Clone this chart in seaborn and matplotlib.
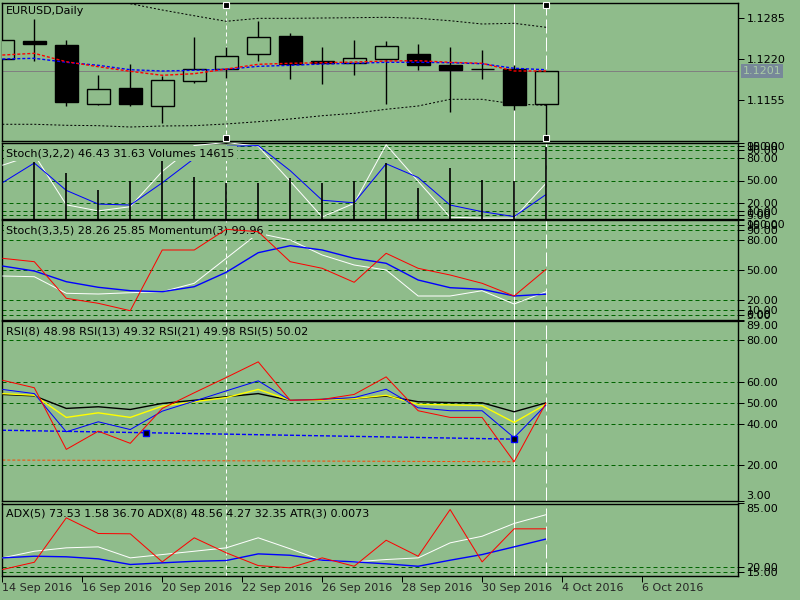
import numpy as np
import matplotlib
matplotlib.use("Agg")
import matplotlib.pyplot as plt
import matplotlib.transforms as mtransforms
import seaborn as sns

sns.set_style("white")
plt.rcParams['font.family'] = ['DejaVu Sans']
plt.rcParams['lines.scale_dashes'] = False
plt.rcParams['lines.solid_capstyle'] = 'butt'

BG = '#8FBC8B'
LEVEL = '#006400'
PX = 0.72  # one screen pixel in points

# ---- data (bar index 0..17) ----
bars = list(range(18))
opens = [1.12195, 1.12485, 1.12422, 1.11491, 1.11735, 1.11460, 1.11856, 1.12046, 1.12275,
         1.12565, 1.12168, 1.12141, 1.12195, 1.12279, 1.12105, 1.12041, 1.12041, 1.11482]
highs = [1.12501, 1.12834, 1.12501, 1.11946, 1.12121, 1.11930, 1.12554, 1.12395, 1.12807,
         1.12617, 1.12390, 1.12501, 1.12485, 1.12438, 1.12390, 1.12343, 1.12105, 1.12010]
lows = [1.12195, 1.12168, 1.11460, 1.11470, 1.11460, 1.11190, 1.11815, 1.11904, 1.12168,
        1.11883, 1.11804, 1.11946, 1.11487, 1.12026, 1.11364, 1.11883, 1.11387, 1.10952]
closes = [1.12501, 1.12438, 1.11523, 1.11720, 1.11482, 1.11862, 1.12037, 1.12248, 1.12544,
          1.12126, 1.12132, 1.12211, 1.12406, 1.12110, 1.12030, 1.12035, 1.11475, 1.12010]

ma_red = [1.12263, 1.12290, 1.12157, 1.12078, 1.12005, 1.11942, 1.11967, 1.12041, 1.12116,
          1.12132, 1.12141, 1.12152, 1.12168, 1.12173, 1.12148, 1.12132, 1.12010, 1.12010]
ma_blue = [1.12200, 1.12211, 1.12148, 1.12100, 1.12030, 1.12010, 1.12021, 1.12037, 1.12084,
           1.12100, 1.12121, 1.12132, 1.12148, 1.12148, 1.12141, 1.12125, 1.12053, 1.12030]
band_upper = [1.13330, 1.13320, 1.13280, 1.13200, 1.13077, 1.12977, 1.12886, 1.12798, 1.12845,
              1.12845, 1.12850, 1.12855, 1.12861, 1.12845, 1.12807, 1.12755, 1.12766, 1.12703]
band_lower = [1.11165, 1.11165, 1.11149, 1.11143, 1.11122, 1.11138, 1.11143, 1.11170, 1.11206,
              1.11249, 1.11301, 1.11339, 1.11403, 1.11455, 1.11561, 1.11561, 1.11487, 1.11466]
price_ticks = [1.1155, 1.1220, 1.1285]

stoch1_main = [70, 84, 18, 10, 15.5, 62, 96, 100, 95, 49, 2, 20, 97, 49, 1.7, 0.5, 0.5, 46.43]
stoch1_signal = [47, 73, 37, 19, 17.7, 47, 79, 95, 96, 63, 24, 20.7, 72, 54, 17.7, 9, 2.5, 31.63]
volumes = [9000, 11560, 9320, 5800, 7630, 11700, 8510, 7290, 7290, 8300, 7160, 7630, 11230,
           6150, 10220, 7830, 7630, 14615]

stoch2_main = [44, 43.3, 26.7, 26, 27.3, 28.3, 36.7, 61.7, 86.7, 80, 65, 55, 50, 24, 24, 29.3, 16, 28.26]
stoch2_signal = [54, 49, 38.3, 32.7, 29.3, 28.3, 33.3, 47.7, 67.3, 74.3, 70, 61.7, 56.7, 40, 32.3, 30.7, 24, 25.85]
momentum = [61.7, 58.3, 21.7, 16.7, 9.3, 70, 70, 90.7, 88.3, 58.3, 51.7, 37.7, 66.7, 51.7, 45, 36.7, 24, 50.7]
stoch_ticks = [0, 5, 10, 20, 50, 80, 90, 95, 100]
stoch_levels = [5, 10, 20, 50, 80, 90, 95]

rsi5 = [60.8, 57.2, 27.7, 36.4, 30.6, 47.3, 54.8, 62.1, 69.6, 51.2, 51.6, 54, 62.4, 46.2, 43, 43, 21.8, 50.02]
rsi8 = [56.4, 54.4, 36.1, 40.9, 37.2, 46, 50.8, 55.7, 60.5, 51.2, 51.6, 52.5, 56.5, 47.6, 46.2, 46.2, 33.3, 48.98]
rsi13 = [54.4, 53.6, 43, 45.2, 43, 48.4, 50.5, 52.5, 56.4, 51.2, 51.4, 52, 53.6, 49.2, 49, 48.6, 40.6, 49.32]
rsi21 = [54, 53.3, 47.3, 48.1, 46.8, 49.7, 51.2, 52.9, 54.4, 51.2, 51.6, 52, 53.2, 50.5, 50.1, 50, 45.7, 49.98]
rsi_ticks = [3, 20, 40, 50, 60, 80, 89]
rsi_levels = [20, 40, 50, 60, 80]
trend_blue_x = [4.5, 16]
trend_blue_y = [35.67, 32.6]
trend_orange_x = [0, 16]
trend_orange_y = [22.6, 21.8]

adx_red = [17.2, 24.7, 70.3, 54.2, 53.9, 25.1, 49.8, 34.4, 21.3, 19, 29.2, 20.6, 47.3, 30.9, 78.8, 25.1, 59, 59]
adx5 = [29.2, 36, 39.5, 40.5, 29.2, 32.6, 36, 39.5, 49.8, 38.5, 26.5, 25.1, 27.5, 29.2, 44.6, 51.4, 64.5, 73.53]
adx8 = [29.2, 30.9, 30.3, 28.2, 22.4, 24.1, 25.7, 26.5, 33.3, 31.9, 26.8, 25.1, 23.1, 20.6, 26.8, 32.6, 40.5, 48.56]
adx_ticks = [15, 20, 85]
adx_levels = [15, 20]

date_pos = [0, 2.5, 5, 7.5, 10, 12.5, 15, 17.5, 20]
date_labels = ['14 Sep 2016', '16 Sep 2016', '20 Sep 2016', '22 Sep 2016', '26 Sep 2016',
               '28 Sep 2016', '30 Sep 2016', '4 Oct 2016', '6 Oct 2016']

titles = ['EURUSD,Daily',
          'Stoch(3,2,2) 46.43 31.63 Volumes 14615',
          'Stoch(3,3,5) 28.26 25.85 Momentum(3) 99.96',
          'RSI(8) 48.98 RSI(13) 49.32 RSI(21) 49.98 RSI(5) 50.02',
          'ADX(5) 73.53 1.58 36.70 ADX(8) 48.56 4.27 32.35 ATR(3) 0.0073']

# ---- figure ----
fig = plt.figure(figsize=(8, 6), dpi=100, facecolor=BG)


def make_panel(top, bottom):
    return fig.add_axes([2 / 800, 1 - bottom / 600, 736 / 800, (bottom - top) / 600])


def style_panel(ax, ticks, ylim, fmt, levels=()):
    ax.set_facecolor(BG)
    ax.set_xlim(-0.01, 23.0)
    ax.set_ylim(*ylim)
    for s in ax.spines.values():
        s.set_visible(True)
        s.set_color('black')
        s.set_linewidth(1.0)
    ax.yaxis.tick_right()
    ax.set_yticks(ticks, [fmt.format(v) for v in ticks])
    ax.tick_params(axis='y', right=True, left=False, direction='out', length=4,
                   width=PX, pad=2, labelsize=8, labelcolor='black', color='black')
    ax.tick_params(axis='x', bottom=False, labelbottom=False)
    ax.grid(False)
    for lbl in ax.get_yticklabels():
        if lbl.get_text() == fmt.format(ylim[1]):
            lbl.set_va('top')
        elif lbl.get_text() == fmt.format(ylim[0]):
            lbl.set_va('bottom')
    for lv in levels:
        ax.axhline(lv, color=LEVEL, lw=PX, ls=(0, (4 * PX, 3 * PX)), zorder=1)
    # markers of the vertical lines
    ax.axvline(7, color='white', lw=PX, ls=(0, (4 * PX, 3 * PX)), zorder=1.6)
    ax.axvline(16, color='white', lw=PX, zorder=1.6)
    ax.axvline(17, color='white', lw=PX, ls=(0, (14 * PX, 4 * PX)), zorder=1.6)


def title(ax, text, dy, box=False):
    kw = dict(xy=(0, 1), xycoords='axes fraction', xytext=(4, -dy),
              textcoords='offset pixels', ha='left', va='top', fontsize=8,
              color='black', zorder=6)
    if box:
        kw['bbox'] = dict(boxstyle='square,pad=0.2', fc=BG, ec='none')
    ax.annotate(text, **kw)


def line(ax, y, color, lw=PX, z=3, **kw):
    sns.lineplot(x=bars, y=y, ax=ax, color=color, linewidth=lw, zorder=z,
                 estimator=None, errorbar=None, legend=False, **kw)


# panel 1: price
ax1 = make_panel(3, 141)
style_panel(ax1, price_ticks, (1.10900, 1.13088), '{:.4f}')
ax1.axhline(closes[-1], color='#808080', lw=PX, zorder=1.5)
o = np.array(opens)
c = np.array(closes)
body_col = ['black' if cc < oo else BG for oo, cc in zip(opens, closes)]
ax1.vlines(bars, lows, highs, color='black', lw=1.0, zorder=3)
ax1.bar(bars, np.abs(c - o), bottom=np.minimum(o, c), width=0.72, color=body_col,
        edgecolor='black', linewidth=1.0, zorder=4)
line(ax1, band_upper, 'black', z=5, linestyle=(0, (2 * PX, 2 * PX)))
line(ax1, band_lower, 'black', z=5, linestyle=(0, (2 * PX, 2 * PX)))
line(ax1, ma_blue, 'blue', lw=1.0, z=5, linestyle=(0, (3 * PX, 2 * PX)))
line(ax1, ma_red, 'red', lw=1.0, z=5, linestyle=(0, (3 * PX, 2 * PX)))
title(ax1, titles[0], 3)
handle_bars = [7, 7, 17, 17]
handle_frac = [0.983, 0.02, 0.983, 0.02]
ax1.plot(handle_bars, handle_frac, ls='none', marker='s', ms=4, mfc='black', mec='white',
         mew=0.8, transform=ax1.get_xaxis_transform(), zorder=8, clip_on=False)
ax1.annotate(f'{closes[-1]:.4f}', xy=(1, closes[-1]),
             xycoords=mtransforms.blended_transform_factory(ax1.transAxes, ax1.transData),
             xytext=(5, 0), textcoords='offset pixels', ha='left', va='center',
             fontsize=8, color='#A9CBA5', annotation_clip=False, zorder=9,
             bbox=dict(boxstyle='square,pad=0.15', fc='#778899', ec='none'))

# panel 2: stoch + volumes
ax2 = make_panel(142.5, 218.5)
ax2v = ax2.twinx()
ax2v.set_ylim(0, 15490)
ax2v.set_yticks([])
for s in ax2v.spines.values():
    s.set_visible(False)
ax2v.vlines(bars, 0, volumes, color='black', lw=1.2)
style_panel(ax2, stoch_ticks, (0, 100), '{:.2f}', stoch_levels)
line(ax2, stoch1_main, 'white')
line(ax2, stoch1_signal, 'blue')
title(ax2, titles[1], 6, box=True)

# panel 3: stoch + momentum
ax3 = make_panel(220, 320)
style_panel(ax3, stoch_ticks, (0, 100), '{:.2f}', stoch_levels)
line(ax3, stoch2_main, 'white')
line(ax3, stoch2_signal, 'blue', lw=1.0)
line(ax3, momentum, 'red', z=7)
title(ax3, titles[2], 5.5, box=True)

# panel 4: RSI
ax4 = make_panel(321.3, 501)
style_panel(ax4, rsi_ticks, (3, 89), '{:.2f}', rsi_levels)
line(ax4, rsi21, 'black', lw=1.0)
line(ax4, rsi13, 'yellow', lw=1.0)
line(ax4, rsi8, 'blue')
line(ax4, rsi5, 'red')
x0, x1 = trend_blue_x
y0, y1 = trend_blue_y
slope = (y1 - y0) / (x1 - x0)
ax4.plot([-0.01, x1], [y0 + slope * (-0.01 - x0), y1], color='blue', lw=1.0,
         ls=(0, (4 * PX, 2 * PX)), zorder=2.5)
ax4.plot(trend_blue_x, trend_blue_y, ls='none', marker='s', ms=4, mfc='black', mec='blue',
         mew=1.0, zorder=8)
ax4.plot(trend_orange_x, trend_orange_y, color='#FF4500', lw=PX, ls=(0, (3 * PX, 2 * PX)),
         zorder=2.5)
title(ax4, titles[3], 5.5)

# panel 5: ADX
ax5 = make_panel(503.5, 576)
style_panel(ax5, adx_ticks, (10.6, 85), '{:.2f}', adx_levels)
line(ax5, adx5, 'white')
line(ax5, adx8, 'blue', lw=1.0)
line(ax5, adx_red, 'red')
title(ax5, titles[4], 5.5)
ax5.set_xticks(date_pos, date_labels)
ax5.tick_params(axis='x', bottom=True, labelbottom=True, direction='out', length=4,
                width=PX, pad=1, labelsize=8, color='black')
for lbl in ax5.get_xticklabels():
    lbl.set_ha('left')
ax5.set_xlim(-0.01, 23.0)

fig.savefig('out.png', dpi=100, facecolor=BG)
